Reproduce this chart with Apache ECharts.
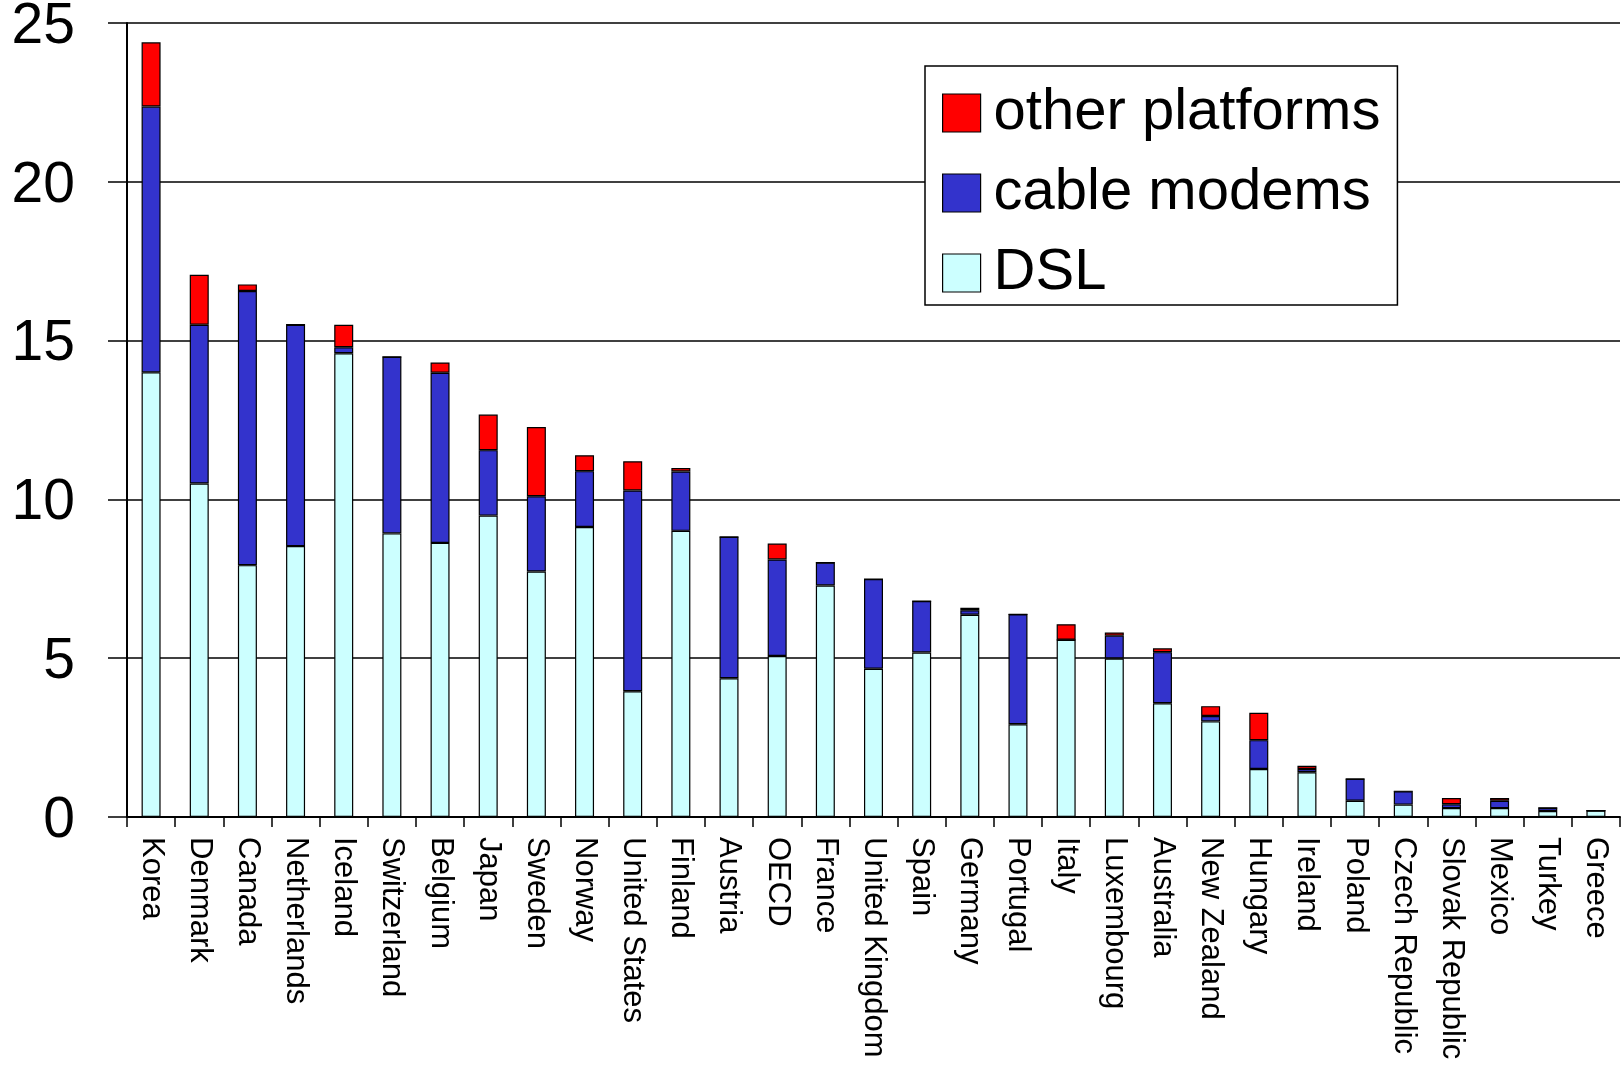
<!DOCTYPE html>
<html>
<head>
<meta charset="utf-8">
<script src="https://cdn.jsdelivr.net/npm/echarts@6/dist/echarts.min.js"></script>
<style>
html,body{margin:0;padding:0;background:#fff;}
#chart{width:1621px;height:1067px;}
</style>
</head>
<body>
<div id="chart"></div>
<script>
const categories = ["Korea","Denmark","Canada","Netherlands","Iceland","Switzerland","Belgium","Japan","Sweden","Norway","United States","Finland","Austria","OECD","France","United Kingdom","Spain","Germany","Portugal","Italy","Luxembourg","Australia","New Zealand","Hungary","Ireland","Poland","Czech Republic","Slovak Republic","Mexico","Turkey","Greece"];
const dsl   = [14.0, 10.5, 7.93, 8.53, 14.6, 8.93, 8.63, 9.49, 7.73, 9.13, 3.96, 9.01, 4.37, 5.07, 7.29, 4.67, 5.18, 6.37, 2.92, 5.58, 4.99, 3.58, 3.01, 1.51, 1.41, 0.51, 0.39, 0.28, 0.28, 0.19, 0.2];
const cable = [8.37, 5.0, 8.63, 6.97, 0.19, 5.56, 5.36, 2.06, 2.37, 1.76, 6.32, 1.87, 4.45, 3.04, 0.72, 2.82, 1.62, 0.14, 3.46, 0, 0.72, 1.61, 0.17, 0.91, 0.1, 0.69, 0.42, 0.12, 0.23, 0.1, 0];
const other = [2.02, 1.57, 0.21, 0, 0.71, 0, 0.32, 1.12, 2.18, 0.5, 0.92, 0.11, 0, 0.5, 0, 0, 0, 0.08, 0, 0.49, 0.1, 0.12, 0.31, 0.86, 0.1, 0, 0, 0.2, 0.09, 0, 0];
const yTicks = {min: 0, max: 25, interval: 5};
const seriesNames = ["DSL", "cable modems", "other platforms"];
const legendOrder = ["other platforms", "cable modems", "DSL"];
const colors = {"DSL": "#CCFFFF", "cable modems": "#3333CC", "other platforms": "#FF0000"};

const font = "'Liberation Sans', Arial, sans-serif";
const chart = echarts.init(document.getElementById('chart'), null, {renderer: 'canvas'});
const dataMap = {"DSL": dsl, "cable modems": cable, "other platforms": other};

chart.setOption({
  animation: false,
  backgroundColor: '#ffffff',
  textStyle: {fontFamily: font},
  grid: {left: 127, right: 1, top: 23, bottom: 250, containLabel: false, outerBoundsMode: 'none'},
  legend: {
    data: legendOrder,
    orient: 'vertical',
    left: 925,
    top: 66,
    padding: [18, 17, 3, 17],
    itemWidth: 38,
    itemHeight: 38,
    itemGap: 22,
    icon: 'rect',
    borderColor: '#000',
    borderWidth: 1.5,
    borderRadius: 0,
    backgroundColor: '#fff',
    textStyle: {fontSize: 58, color: '#000', fontFamily: font, lineHeight: 56, padding: [0, 0, 0, 8]},
    itemStyle: {borderColor: '#000', borderWidth: 1.2}
  },
  xAxis: {
    type: 'category',
    data: categories,
    axisLine: {lineStyle: {color: '#000', width: 2}},
    axisTick: {show: true, length: 10, lineStyle: {color: '#000', width: 1.5}},
    axisLabel: {rotate: -90, fontSize: 31, color: '#000', fontFamily: font, margin: 20, interval: 0}
  },
  yAxis: {
    type: 'value',
    min: yTicks.min, max: yTicks.max, interval: yTicks.interval,
    axisLine: {show: true, lineStyle: {color: '#000', width: 2}},
    axisTick: {show: true, length: 19, lineStyle: {color: '#000', width: 1.5}},
    axisLabel: {
      margin: 52,
      formatter: '{a|{value}}',
      rich: {a: {fontSize: 57, color: '#000', fontFamily: font, padding: [8, 0, 0, 0], lineHeight: 57}}
    },
    splitLine: {show: true, lineStyle: {color: '#000', width: 1.5}}
  },
  series: seriesNames.map(name => ({
    name: name,
    type: 'bar',
    stack: 'total',
    barWidth: 19,
    data: dataMap[name],
    itemStyle: {color: colors[name], borderColor: '#000', borderWidth: 1.2}
  }))
});
</script>
</body>
</html>
